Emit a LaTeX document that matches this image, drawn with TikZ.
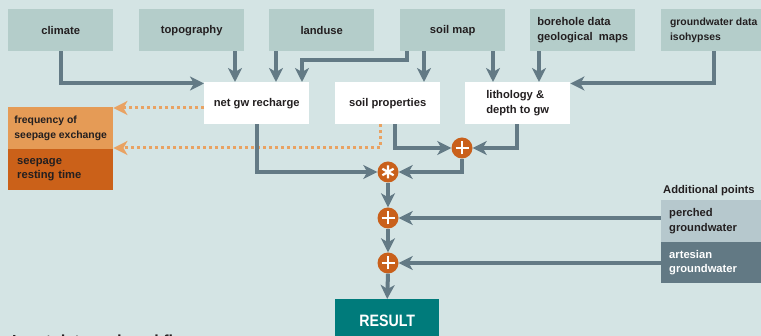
\documentclass[tikz,border=0pt]{standalone}
\usepackage{fontspec}
\setmainfont{Liberation Sans}
\usetikzlibrary{arrows.meta}
\definecolor{bg}{HTML}{D4E4E4}
\definecolor{topc}{HTML}{B4CDCA}
\definecolor{txt}{HTML}{231F20}
\definecolor{arrc}{HTML}{637A85}
\definecolor{dotc}{HTML}{E9A262}
\definecolor{opc}{HTML}{C9601B}
\definecolor{freqc}{HTML}{E59B56}
\definecolor{seepc}{HTML}{CB6119}
\definecolor{resc}{HTML}{007B7B}
\definecolor{perchc}{HTML}{B6C8CD}
\definecolor{artc}{HTML}{627984}
\begin{document}
\begin{tikzpicture}[x=1pt,y=-1pt,
  lbl/.style={font=\bfseries\fontsize{11.2}{14.5}\selectfont, text=txt},
  small/.style={font=\bfseries\fontsize{10.4}{14.5}\selectfont},
  box/.style={lbl, anchor=north west, minimum width=105pt, minimum height=42pt, inner sep=0pt, align=left},
  topbox/.style={box, fill=topc},
  wbox/.style={box, fill=white},
  sidebox/.style={box, text width=89pt, inner xsep=8pt},
  flow/.style={draw=arrc, line width=4pt, -{Stealth[length=14pt,width=14pt,inset=4pt]}},
  dflow/.style={draw=dotc, line width=3pt, dash pattern=on 3pt off 3pt, -{Stealth[length=14pt,width=14pt,inset=4pt]}},
  op/.style={circle, fill=opc, minimum size=21pt, inner sep=0pt},
  plusop/.style={op, path picture={\draw[white,line width=2.6pt]
      ([xshift=-6.5pt]path picture bounding box.center) -- ([xshift=6.5pt]path picture bounding box.center)
      ([yshift=-6.5pt]path picture bounding box.center) -- ([yshift=6.5pt]path picture bounding box.center);}},
  astop/.style={op, path picture={\draw[white,line width=2.2pt]
      ([shift={(90:6.5pt)}]path picture bounding box.center) -- ([shift={(270:6.5pt)}]path picture bounding box.center)
      ([shift={(30:6.5pt)}]path picture bounding box.center) -- ([shift={(210:6.5pt)}]path picture bounding box.center)
      ([shift={(150:6.5pt)}]path picture bounding box.center) -- ([shift={(330:6.5pt)}]path picture bounding box.center);}}
]
\useasboundingbox (0,0) rectangle (761,336);
\fill[bg] (0,0) rectangle (761,336);

% top sources
\node[topbox] (climate) at (8,9) {climate};
\node[topbox] (topo) at (139,9) {topography};
\node[topbox] (landuse) at (269,9) {landuse};
\node[topbox] (soilmap) at (400,9) {soil map};
\node[topbox] (bore) at (530,9) {borehole data\\geological\ \ maps};
\node[topbox, small, text=txt] (gwdata) at (661,9) {groundwater data\\isohypses};

% intermediate
\node[wbox] (netgw) at (204,82) {net gw recharge};
\node[wbox] (soilp) at (335,82) {soil properties};
\node[wbox] (litho) at (465,82) {lithology \&\\depth to gw};

% outputs left
\node[box, small, text=txt, fill=freqc, minimum height=42pt] (freq) at (8,107) {frequency of\\seepage exchange};
\node[sidebox, fill=seepc, minimum height=41pt, inner xsep=9pt, text width=87pt] (seep) at (8,149) {seepage\\resting time};

% operators
\node[plusop] (plus1) at (462,148) {};
\node[astop] (ast) at (388,172) {};
\node[plusop] (plus2) at (388,218) {};
\node[plusop] (plus3) at (388,263) {};

% result
\node[box, fill=resc, minimum width=104pt, minimum height=43pt, align=center, text=white,
      font=\bfseries\fontsize{16.5}{18}\selectfont] (result) at (335,299) {\scalebox{0.86}[1]{RESULT}};

% additional points
\node[lbl, anchor=base west, inner sep=0pt] (addl) at (663,194) {Additional points};
\node[sidebox, fill=perchc, minimum height=42pt] (perched) at (661,200) {perched\\groundwater};
\node[sidebox, fill=artc, minimum height=41pt, text=white] (artesian) at (661,242) {artesian\\groundwater};

% title (cut off at the bottom edge, as in the reference)
\node[anchor=base west, inner sep=0pt, text=txt, font=\bfseries\fontsize{16}{19}\selectfont] (title) at (12,347) {Input data and workflow};

% connectors
\draw[flow] (climate.south) |- ([yshift=-1.5pt]netgw.north west);
\draw[flow] (topo.south -| 235,0) -- (netgw.north -| 235,0);
\draw[flow] (landuse.south -| 276,0) -- (netgw.north -| 276,0);
\draw[flow] (soilmap.south -| 407,0) -- (407,60) -| (netgw.north -| 302,0);
\draw[flow] (soilmap.south -| 424,0) -- (soilp.north -| 424,0);
\draw[flow] (soilmap.south -| 493,0) -- (litho.north -| 493,0);
\draw[flow] (bore.south -| 539,0) -- (litho.north -| 539,0);
\draw[flow] (gwdata.south -| 714,0) |- ([yshift=-1.5pt]litho.north east);

\draw[dflow] (netgw.west |- 0,108) -- (freq.east |- 0,108);
\draw[dflow] (soilp.south -| 380,0) |- (freq.east |- 0,148);

\draw[flow] (soilp.south -| 395,0) |- (plus1.west);
\draw[flow] (litho.south -| 517,0) |- (plus1.east);
\draw[flow] (netgw.south) |- (ast.west);
\draw[flow] (plus1.south) |- (ast.east);
\draw[flow] (ast.south) -- (plus2.north);
\draw[flow] (plus2.south) -- (plus3.north);
\draw[flow] (plus3.south) -- (result.north);
\draw[flow] (perched.west |- plus2) -- (plus2.east);
\draw[flow] (artesian.west |- plus3) -- (plus3.east);
\end{tikzpicture}
\end{document}
